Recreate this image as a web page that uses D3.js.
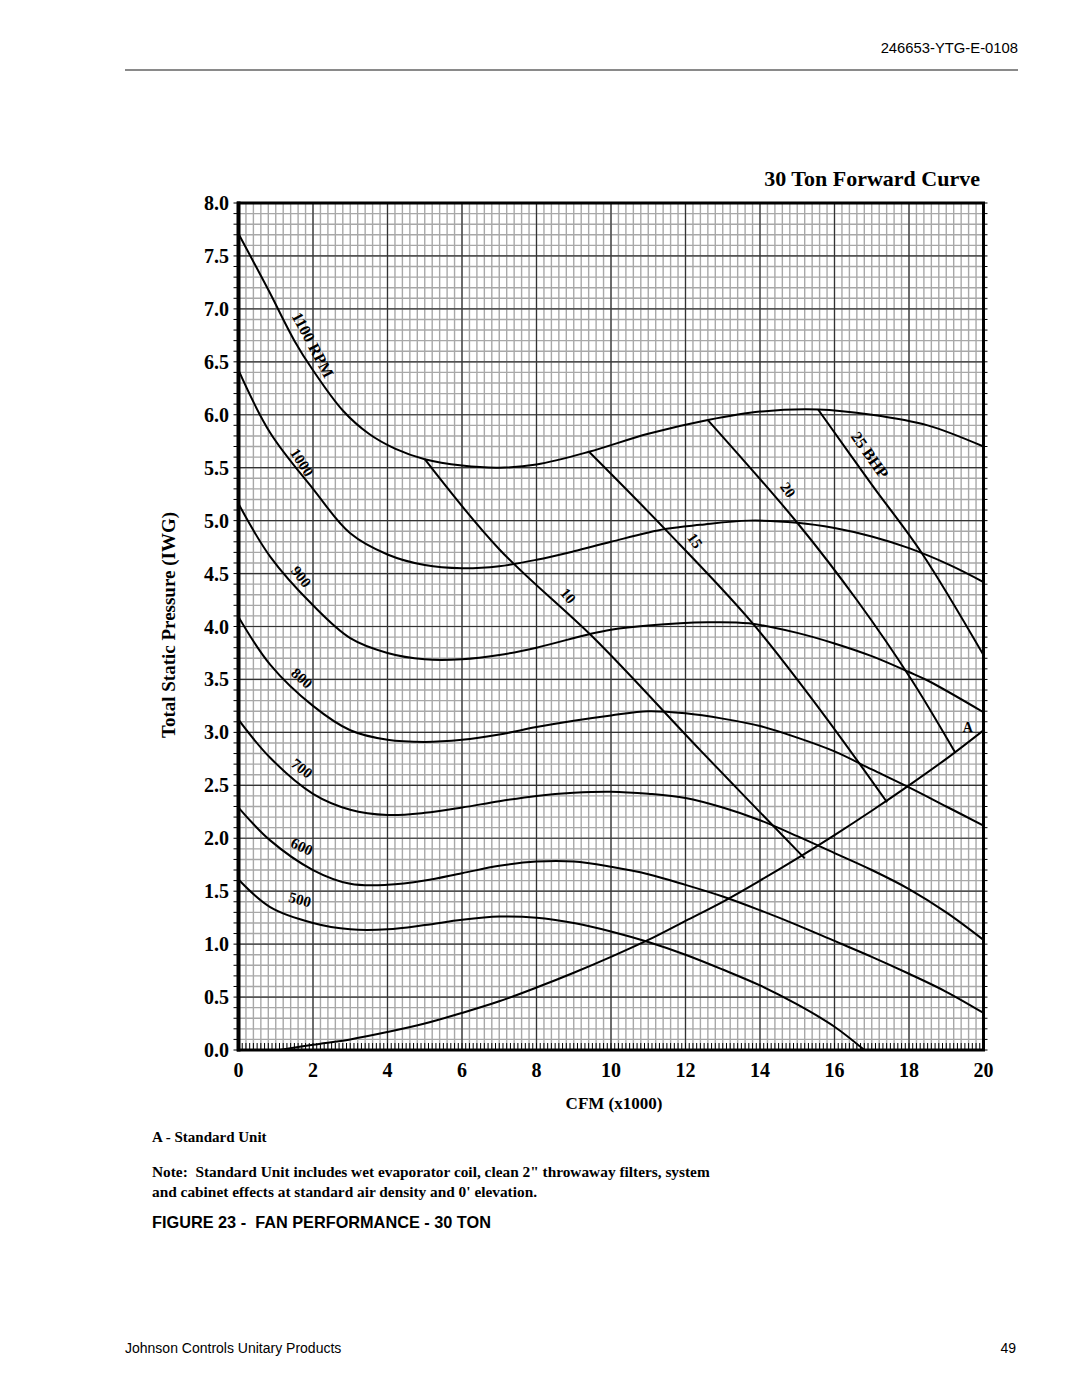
<!DOCTYPE html>
<html>
<head>
<meta charset="utf-8">
<script src="https://cdn.jsdelivr.net/npm/d3@7"></script>
<style>
  html, body { margin: 0; padding: 0; background: #fff; }
  svg { display: block; }
  .serif { font-family: "Liberation Serif", "Times New Roman", serif; font-weight: bold; fill: #000; }
  .sans { font-family: "Liberation Sans", Arial, sans-serif; fill: #000; }
</style>
</head>
<body>
<svg id="chart" width="1080" height="1397"></svg>
<script>
// ---------------- DATA ----------------
const cfmTicks = [0, 2, 4, 6, 8, 10, 12, 14, 16, 18, 20];
const pressureTicks = [0.0, 0.5, 1.0, 1.5, 2.0, 2.5, 3.0, 3.5, 4.0, 4.5, 5.0, 5.5, 6.0, 6.5, 7.0, 7.5, 8.0];

// Fan curves: [CFM x1000, total static pressure IWG]
const rpm1100 = [[0,7.71],[0.8,7.18],[1.5,6.70],[2.0,6.42],[2.8,6.04],[3.5,5.82],[4.2,5.68],[5.0,5.58],[6.0,5.52],[7.0,5.50],[8.0,5.53],[9.41,5.65],[11,5.82],[12.6,5.95],[14,6.03],[15.56,6.05],[17,6.0],[18.5,5.9],[20,5.70]];
const rpm1000 = [[0,6.42],[0.85,5.83],[2.0,5.30],[3.0,4.88],[4,4.68],[5,4.58],[6,4.55],[7,4.57],[8,4.63],[9,4.71],[10,4.80],[11.45,4.92],[12.4,4.96],[13.7,5.0],[15,4.98],[16,4.93],[17,4.85],[18,4.74],[19.1,4.58],[20,4.42]];
const rpm900  = [[0,5.16],[0.85,4.66],[2.0,4.20],[3.0,3.89],[4,3.75],[5,3.69],[6,3.69],[7,3.73],[8,3.80],[9.44,3.93],[10,3.97],[11,4.01],[12.6,4.04],[13.7,4.03],[15,3.94],[16,3.84],[17,3.72],[18,3.57],[18.5,3.49],[20,3.19]];
const rpm800  = [[0,4.09],[0.85,3.64],[2,3.25],[3,3.02],[4,2.93],[5,2.91],[6,2.93],[7,2.98],[8,3.05],[9,3.11],[10,3.16],[11,3.20],[12,3.18],[13,3.13],[14,3.06],[15,2.95],[16,2.82],[17,2.65],[18,2.48],[19,2.30],[20,2.12]];
const rpm700  = [[0,3.12],[0.85,2.76],[2,2.42],[3,2.27],[4,2.22],[5,2.24],[6,2.29],[7,2.35],[8,2.40],[9,2.43],[10,2.44],[11,2.42],[12,2.38],[13,2.29],[14,2.17],[15,2.02],[16,1.86],[17,1.70],[18,1.52],[19,1.30],[20,1.04]];
const rpm600  = [[0,2.29],[0.85,1.98],[2,1.70],[3,1.57],[4,1.56],[5,1.60],[6,1.67],[7,1.74],[8,1.78],[9,1.78],[10,1.73],[11,1.66],[12,1.56],[13,1.45],[14,1.32],[15,1.18],[16,1.03],[17,0.88],[18,0.72],[19,0.55],[20,0.35]];
const rpm500  = [[0,1.61],[0.85,1.35],[2,1.20],[3,1.14],[4,1.14],[5,1.18],[6,1.23],[7,1.26],[8,1.25],[9,1.20],[10,1.12],[11,1.02],[12,0.90],[13,0.76],[14,0.61],[15,0.43],[16,0.22],[16.8,0.0]];

// Brake horsepower lines
const bhp10 = [[5.0,5.58],[7.0,4.73],[9.6,3.87],[12.4,2.83],[15.2,1.81]];
const bhp15 = [[9.41,5.65],[11.45,4.92],[13.73,4.06],[15.6,3.22],[17.41,2.34]];
const bhp20 = [[12.6,5.95],[15.0,4.98],[16.6,4.25],[18.08,3.49],[19.24,2.81]];
const bhp25 = [[15.56,6.05],[17.0,5.34],[18.35,4.69],[20,3.73]];

// System curve A - Standard Unit
const systemA = [[1.1,0.0],[2,0.05],[3,0.10],[4,0.17],[5,0.25],[6,0.35],[7,0.46],[8,0.59],[9,0.73],[10,0.88],[11,1.04],[12,1.22],[13,1.40],[14,1.60],[15,1.81],[16,2.03],[17,2.26],[18,2.50],[19,2.75],[20,3.02]];

// Curve labels: text, cfm, pressure, rotation, size
const rpmLabels = [
  ["1100 RPM", 2.0, 6.66, 62, 16],
  ["1000", 1.7, 5.55, 57, 15],
  ["900", 1.68, 4.47, 52, 15],
  ["800", 1.7, 3.51, 42, 15],
  ["700", 1.7, 2.66, 38, 15],
  ["600", 1.7, 1.92, 25, 15],
  ["500", 1.65, 1.42, 15, 15]
];
const bhpLabels = [
  ["25 BHP", 16.95, 5.62, 55, 16],
  ["20", 14.75, 5.29, 55, 15],
  ["15", 12.25, 4.81, 55, 15],
  ["10", 8.85, 4.29, 50, 15]
];

// ---------------- DRAW ----------------
const svg = d3.select("#chart");
const x = d3.scaleLinear().domain([0, 20]).range([238.5, 983.5]);
const y = d3.scaleLinear().domain([0, 8]).range([1050, 203]);

// header
svg.append("text").attr("class", "sans").attr("x", 1018).attr("y", 53)
  .attr("text-anchor", "end").attr("font-size", 14.8).text("246653-YTG-E-0108");
svg.append("line").attr("x1", 125).attr("x2", 1018).attr("y1", 70).attr("y2", 70)
  .attr("stroke", "#8a8a8a").attr("stroke-width", 2);

// title
svg.append("text").attr("class", "serif").attr("x", 980).attr("y", 186)
  .attr("text-anchor", "end").attr("font-size", 22).text("30 Ton Forward Curve");

const g = svg.append("g");

// minor grid
const minorX = d3.range(0, 101).map(i => i * 0.2);
const minorY = d3.range(0, 81).map(i => i * 0.1);
g.selectAll(".vminor").data(minorX).join("line")
  .attr("x1", d => x(d)).attr("x2", d => x(d)).attr("y1", y(8)).attr("y2", y(0))
  .attr("stroke", "#a8a8a8").attr("stroke-width", 1.4);
g.selectAll(".hminor").data(minorY).join("line")
  .attr("y1", d => y(d)).attr("y2", d => y(d)).attr("x1", x(0)).attr("x2", x(20))
  .attr("stroke", "#a8a8a8").attr("stroke-width", 1.4);
// major grid
g.selectAll(".vmajor").data(cfmTicks).join("line")
  .attr("x1", d => x(d)).attr("x2", d => x(d)).attr("y1", y(8)).attr("y2", y(0))
  .attr("stroke", "#333").attr("stroke-width", 1.2);
g.selectAll(".hmajor").data(pressureTicks).join("line")
  .attr("y1", d => y(d)).attr("y2", d => y(d)).attr("x1", x(0)).attr("x2", x(20))
  .attr("stroke", "#333").attr("stroke-width", 1.2);

// small ticks along bottom (inside) and left/right (outside)
const bottomTicks = d3.range(0, 201).map(i => i * 0.1);
g.selectAll(".btick").data(bottomTicks).join("line")
  .attr("x1", d => x(d)).attr("x2", d => x(d)).attr("y1", y(0)).attr("y2", y(0) - 7)
  .attr("stroke", "#000").attr("stroke-width", 1);
g.selectAll(".ltick").data(minorY).join("line")
  .attr("x1", x(0) - 5).attr("x2", x(0)).attr("y1", d => y(d)).attr("y2", d => y(d))
  .attr("stroke", "#000").attr("stroke-width", 1);
g.selectAll(".rtick").data(minorY).join("line")
  .attr("x1", x(20)).attr("x2", x(20) + 4).attr("y1", d => y(d)).attr("y2", d => y(d))
  .attr("stroke", "#000").attr("stroke-width", 1);

// border
g.append("rect").attr("x", x(0)).attr("y", y(8)).attr("width", x(20) - x(0)).attr("height", y(0) - y(8))
  .attr("fill", "none").attr("stroke", "#000").attr("stroke-width", 3);
g.append("line").attr("x1", x(0)).attr("x2", x(0)).attr("y1", y(8) - 1.5).attr("y2", y(0) + 1.5)
  .attr("stroke", "#000").attr("stroke-width", 4);

// curves
const line = d3.line().x(d => x(d[0])).y(d => y(d[1])).curve(d3.curveCatmullRom.alpha(0.5));
svg.append("clipPath").attr("id", "plotclip").append("rect")
  .attr("x", x(0)).attr("y", y(8)).attr("width", x(20) - x(0)).attr("height", y(0) - y(8));
const curves = g.append("g").attr("clip-path", "url(#plotclip)");
[rpm1100, rpm1000, rpm900, rpm800, rpm700, rpm600, rpm500].forEach(c => {
  curves.append("path").datum(c).attr("d", line).attr("fill", "none")
    .attr("stroke", "#000").attr("stroke-width", 2);
});
[bhp10, bhp15, bhp20, bhp25].forEach(c => {
  curves.append("path").datum(c).attr("d", line).attr("fill", "none")
    .attr("stroke", "#000").attr("stroke-width", 2);
});
curves.append("path").datum(systemA).attr("d", line).attr("fill", "none")
  .attr("stroke", "#000").attr("stroke-width", 2);

// curve labels
[...rpmLabels, ...bhpLabels].forEach(([t, cx, cy, rot, fs]) => {
  g.append("text").attr("class", "serif")
    .attr("transform", `translate(${x(cx)},${y(cy)}) rotate(${rot})`)
    .attr("text-anchor", "middle").attr("dominant-baseline", "central")
    .attr("font-size", fs).text(t);
});
g.append("text").attr("class", "serif").attr("x", x(19.58)).attr("y", y(3.05))
  .attr("text-anchor", "middle").attr("dominant-baseline", "central")
  .attr("font-size", 14).text("A");

// axis tick labels
svg.selectAll(".ylab").data(pressureTicks).join("text").attr("class", "serif")
  .attr("x", 229).attr("y", d => y(d)).attr("text-anchor", "end")
  .attr("dominant-baseline", "central").attr("font-size", 20).text(d => d.toFixed(1));
svg.selectAll(".xlab").data(cfmTicks).join("text").attr("class", "serif")
  .attr("x", d => x(d)).attr("y", 1070).attr("text-anchor", "middle")
  .attr("dominant-baseline", "central").attr("font-size", 20).text(d => d);

// axis titles
svg.append("text").attr("class", "serif")
  .attr("transform", "translate(168,625) rotate(-90)")
  .attr("text-anchor", "middle").attr("dominant-baseline", "central")
  .attr("font-size", 19).text("Total Static Pressure (IWG)");
svg.append("text").attr("class", "serif").attr("x", 614).attr("y", 1103)
  .attr("text-anchor", "middle").attr("dominant-baseline", "central")
  .attr("font-size", 17).text("CFM (x1000)");

// notes
svg.append("text").attr("class", "serif").attr("x", 152).attr("y", 1142)
  .attr("font-size", 15).text("A - Standard Unit");
svg.append("text").attr("class", "serif").attr("x", 152).attr("y", 1177)
  .attr("font-size", 15.35).style("white-space", "pre")
  .text("Note:  Standard Unit includes wet evaporator coil, clean 2\" throwaway filters, system");
svg.append("text").attr("class", "serif").attr("x", 152).attr("y", 1197)
  .attr("font-size", 15.35).text("and cabinet effects at standard air density and 0' elevation.");
svg.append("text").attr("class", "sans").attr("x", 152).attr("y", 1228)
  .attr("font-size", 16.3).attr("font-weight", "bold").style("white-space", "pre")
  .text("FIGURE 23 -  FAN PERFORMANCE - 30 TON");

// footer
svg.append("text").attr("class", "sans").attr("x", 125).attr("y", 1353)
  .attr("font-size", 14).text("Johnson Controls Unitary Products");
svg.append("text").attr("class", "sans").attr("x", 1016).attr("y", 1353)
  .attr("text-anchor", "end").attr("font-size", 14).text("49");
</script>
</body>
</html>
